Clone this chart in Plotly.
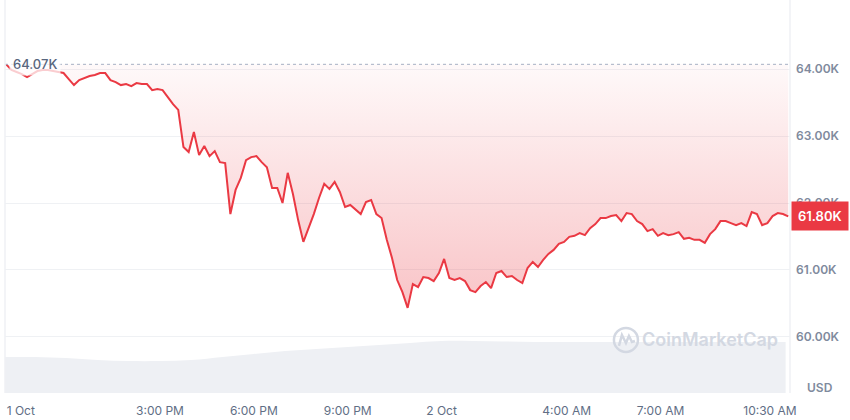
import plotly.graph_objects as go
import pandas as pd

# ---- data (BTC/USD, 10-minute samples) ----
price = [
    64070, 63985, 63955, 63925, 63880, 63925, 63970, 63985, 63985, 63970,
    63955, 63940, 63850, 63760, 63835, 63865, 63895, 63910, 63940, 63940,
    63835, 63805, 63760, 63775, 63745, 63790, 63775, 63775, 63685, 63700,
    63685, 63580, 63475, 63390, 62835, 62760, 63060, 62715, 62850, 62700,
    62775, 62610, 62595, 61835, 62195, 62375, 62640, 62685, 62700, 62610,
    62535, 62225, 62225, 62000, 62450, 62135, 61745, 61420, 61625, 61835,
    62075, 62285, 62210, 62315, 62165, 61940, 61970, 61895, 61835, 62015,
    62045, 61835, 61775, 61450, 61180, 60850, 60670, 60435, 60790, 60745,
    60895, 60880, 60835, 60955, 61165, 60880, 60850, 60880, 60835, 60700,
    60670, 60760, 60820, 60730, 60955, 60985, 60895, 60910, 60850, 60805,
    61030, 61120, 61045, 61150, 61240, 61300, 61390, 61420, 61495, 61510,
    61550, 61520, 61625, 61685, 61775, 61775, 61805, 61820, 61730, 61850,
    61835, 61730, 61685, 61580, 61610, 61510, 61550, 61520, 61535, 61565,
    61465, 61480, 61450, 61450, 61405, 61535, 61610, 61730, 61730, 61700,
    61670, 61700, 61655, 61865, 61835, 61670, 61700, 61805, 61850, 61835,
    61800,
]
price_start = "2024-10-01 10:05"

# hourly trading volume (billions USD)
volume = [
    27.5, 27.5, 26.7, 25.2, 24.4, 24.4, 25.2, 27.5, 29.8, 32.1,
    33.6, 35.1, 36.6, 38.2, 39.7, 39.7, 39.3, 38.9, 38.9, 38.9,
    38.9, 38.9, 38.9, 38.9, 38.9, 38.9,
]
volume_start = "2024-10-01 10:00"

tick_times = ["2024-10-01 10:33", "2024-10-01 15:00", "2024-10-01 18:00",
              "2024-10-01 21:00", "2024-10-02 00:00", "2024-10-02 04:00",
              "2024-10-02 07:00", "2024-10-02 10:30"]
tick_labels = ["1 Oct", "3:00 PM", "6:00 PM", "9:00 PM", "2 Oct",
               "4:00 AM", "7:00 AM", "10:30 AM"]
price_ticks = [60000, 61000, 62000, 63000, 64000]
price_tick_labels = ["60.00K", "61.00K", "62.00K", "63.00K", "64.00K"]

times = pd.date_range(price_start, periods=len(price), freq="10min")
vol_times = pd.date_range(volume_start, periods=len(volume), freq="1h")
open_price = price[0]
last_price = price[-1]

RED = "#ea3943"

fig = go.Figure()

# volume area (secondary axis)
fig.add_trace(go.Scatter(
    x=vol_times, y=volume, yaxis="y2", mode="lines",
    line=dict(width=0, shape="spline"), fill="tozeroy",
    fillcolor="#eef0f4", hoverinfo="skip",
))

# baseline (opening price) for fill
fig.add_trace(go.Scatter(
    x=times, y=[open_price] * len(times), mode="lines",
    line=dict(width=0), hoverinfo="skip",
))

# price line with gradient fill to baseline
fig.add_trace(go.Scatter(
    x=times, y=price, mode="lines",
    line=dict(color=RED, width=2),
    fill="tonexty",
    fillgradient=dict(
        type="vertical",
        colorscale=[[0, "rgba(234,57,67,0.30)"], [1, "rgba(234,57,67,0.03)"]],
        start=min(price), stop=open_price,
    ),
))

fig.update_layout(
    width=850, height=420,
    margin=dict(l=5, r=60, t=0, b=27),
    paper_bgcolor="white", plot_bgcolor="white",
    showlegend=False,
    xaxis=dict(
        type="date",
        range=["2024-10-01 10:02:42", "2024-10-02 11:08:24"],
        tickvals=tick_times, ticktext=tick_labels,
        showgrid=False, zeroline=False, showline=False, ticks="",
        tickfont=dict(family="Inter", size=12, color="#616e85"),
        ticklabelstandoff=9,
    ),
    yaxis=dict(
        side="right", range=[59164, 65030],
        tickvals=price_ticks, ticktext=price_tick_labels,
        gridcolor="#eff1f4", gridwidth=1, zeroline=False, showline=False, ticks="",
        tickfont=dict(family="Inter", size=12, color="#808a9d", weight=600),
        ticklabelstandoff=5,
    ),
    yaxis2=dict(overlaying="y", range=[0, 300], visible=False),
    shapes=[
        dict(type="line", xref="paper", yref="y", x0=0, x1=1,
             y0=open_price, y1=open_price,
             line=dict(color="#a6b0c3", width=1, dash="dot")),
        dict(type="line", xref="paper", yref="paper", x0=0, x1=0, y0=0, y1=1,
             line=dict(color="#eff1f4", width=1.5)),
        dict(type="line", xref="paper", yref="paper", x0=1, x1=1, y0=0, y1=1.1,
             line=dict(color="#eff1f4", width=1.5)),
        # watermark logo
        dict(type="circle", xref="paper", yref="paper", xsizemode="pixel", ysizemode="pixel",
             xanchor=0.791, yanchor=0.135, x0=-12, x1=12, y0=-12, y1=12,
             line=dict(color="#d3d8e2", width=2.5)),
        dict(type="path", xref="paper", yref="paper", xsizemode="pixel", ysizemode="pixel",
             xanchor=0.791, yanchor=0.135,
             path="M -7,-6 L -4,5 L 0,-3 L 3,4 L 6,-2 L 9,-1",
             line=dict(color="#d3d8e2", width=2.5)),
    ],
    annotations=[
        dict(xref="paper", yref="y", x=0, y=open_price, xanchor="left", yanchor="middle",
             xshift=4, text=f"{open_price/1000:.2f}K", showarrow=False,
             bgcolor="rgba(255,255,255,0.75)", borderpad=3,
             font=dict(family="Inter", size=13, color="#58667e", weight=500)),
        dict(xref="paper", yref="y", x=1, y=last_price, xanchor="left", yanchor="middle",
             xshift=1, text=f"{last_price/1000:.2f}K", showarrow=False,
             bgcolor=RED, borderpad=6,
             font=dict(family="Inter", size=13, color="white", weight=600)),
        dict(xref="paper", yref="paper", x=1.038, y=0.013, xanchor="center", yanchor="middle",
             text="USD", showarrow=False,
             font=dict(family="Inter", size=12, color="#808a9d", weight=600)),
        dict(xref="paper", yref="paper", x=0.898, y=0.135, xanchor="center", yanchor="middle",
             text="CoinMarketCap", showarrow=False,
             font=dict(family="Inter", size=18, color="#d3d8e2", weight=600)),
    ],
)

fig.write_html("out.html", config={"displayModeBar": False},
               post_script="document.body.style.margin='0';")
